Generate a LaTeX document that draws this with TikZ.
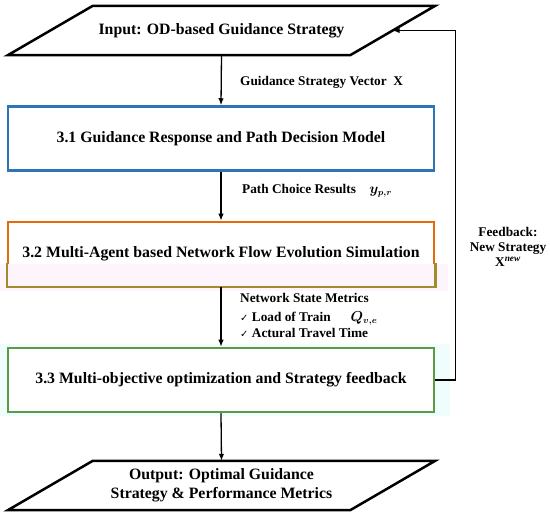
\documentclass[tikz,border=0pt]{standalone}
\usepackage{fontspec}
\setmainfont{Liberation Serif}
\newfontfamily\symfont{DejaVu Sans}
\usetikzlibrary{positioning,shapes.geometric,arrows.meta}
\definecolor{BoxBlue}{HTML}{2E75B6}
\definecolor{BoxOrange}{HTML}{E36C0A}
\definecolor{BoxOlive}{HTML}{A38B2C}
\definecolor{BoxGreen}{HTML}{5B9B45}
\definecolor{BandPink}{HTML}{FEF4FC}
\definecolor{BandCyan}{HTML}{EFFDFD}

\begin{document}
\begin{tikzpicture}[x=1pt, y=-1pt,
    io/.style={minimum width=342pt, minimum height=49pt, inner sep=0pt,
      align=center, font=\fontsize{15.8}{19}\selectfont\bfseries},
    ioline/.style={line width=2.5pt, line join=miter},
    stage/.style={line width=2.5pt, fill=white, minimum width=426pt,
      minimum height=64pt, inner sep=0pt, font=\fontsize{15.8}{19}\selectfont\bfseries},
    flow/.style={line width=1.3pt, -{Latex[length=7pt,width=5.5pt]}},
    lbl/.style={inner sep=0pt, font=\fontsize{13.3}{15}\selectfont\bfseries\boldmath}]
  \useasboundingbox (0,0) rectangle (550,516);
  \node[io] (inp) at (221.5,30.5) {Input: OD-based Guidance Strategy};
  \draw[ioline] ([xshift=42.5pt]inp.north west) -- ([xshift=42.5pt]inp.north east)
    -- ([xshift=-42.5pt]inp.south east) -- ([xshift=-42.5pt]inp.south west) -- cycle;
  \fill[BandCyan] (0,344) rectangle (450,416);
  \foreach \nm/\clr/\yy/\txt in {
    m31/BoxBlue/138.5/{3.1 Guidance Response and Path Decision Model},
    m32/BoxOrange/254/{3.2 Multi-Agent based Network Flow Evolution Simulation},
    m33/BoxGreen/380/{3.3 Multi-objective optimization and Strategy feedback}
  }{
    \node[stage, draw=\clr] (\nm) at (221,\yy) {\txt};
  }
  \fill[BandPink] (0,264) rectangle (448,291);
  \draw[BoxOlive, line width=2.5pt] ([yshift=-42pt]m32.north west) |- (m32.south east)
    -- ([yshift=-42pt]m32.north east);
  \node[io] (outp) at (221.5,485.5) {Output: Optimal Guidance\\Strategy \& Performance Metrics};
  \draw[ioline] ([xshift=42.5pt]outp.north west) -- ([xshift=42.5pt]outp.north east)
    -- ([xshift=-42.5pt]outp.south east) -- ([xshift=-42.5pt]outp.south west) -- cycle;

  \node[lbl, anchor=west] (vec) at (240,82) {Guidance Strategy Vector\enspace X};
  \node[lbl, anchor=west] (paths) at (242,191) {Path Choice Results\quad $y_{p,r}$};
  \node[lbl, anchor=north west, align=left, font=\fontsize{13.3}{16}\selectfont\bfseries\boldmath]
    (metrics) at (240,293) {Network State Metrics\\[3pt]
    {\symfont\fontsize{10}{16}\selectfont ✓} Load of Train\hspace{20pt}$Q_{v,e}$\\
    {\symfont\fontsize{10}{16}\selectfont ✓} Actural Travel Time};
  \node[lbl, align=center] (fblbl) at (508,247) {Feedback:\\New Strategy\\X\textsuperscript{\itshape new}};

  \draw[flow] (inp.south) -- (m31.north);
  \draw[flow] (m31.south) -- (m32.north);
  \draw[flow] (m32.south) -- (m33.north);
  \draw[flow] (m33.south) -- (outp.north);
  \draw[flow] (m33.east) -- ++(20,0) |- (inp.east);
\end{tikzpicture}
\end{document}
